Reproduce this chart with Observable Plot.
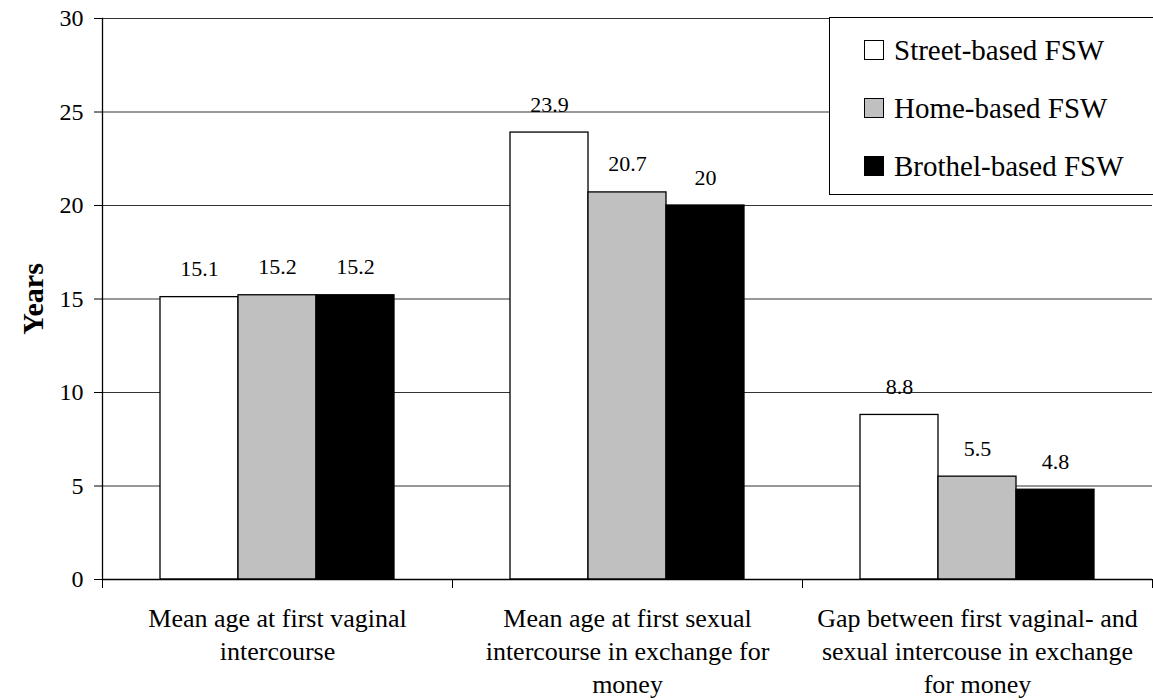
<!DOCTYPE html>
<html>
<head>
<meta charset="utf-8">
<script src="https://cdn.jsdelivr.net/npm/d3@7"></script>
<script src="https://cdn.jsdelivr.net/npm/@observablehq/plot@0.6"></script>
<style>
  body { margin: 0; background: #fff; }
  #wrap { position: relative; width: 1153px; height: 700px; font-family: "Liberation Serif", "Times New Roman", serif; }
  #wrap svg, #wrap svg text { font-family: "Liberation Serif", "Times New Roman", serif !important; }
  #legend { position: absolute; left: 829px; top: 17px; width: 340px; height: 178px; box-sizing: border-box; border: 1px solid #000; background: #fff; }
  .row { position: absolute; left: 0; height: 58px; display: flex; align-items: center; font-size: 29px; color: #000; white-space: nowrap; }
  .sw { width: 18px; height: 18px; border: 1px solid #000; margin-left: 34px; margin-right: 10px; flex: none; }
</style>
</head>
<body>
<div id="wrap"></div>
<script>
const categories = [
  "Mean age at first vaginal\nintercourse",
  "Mean age at first sexual\nintercourse in exchange for\nmoney",
  "Gap between first vaginal- and\nsexual intercouse in exchange\nfor money"
];
const series = ["Street-based FSW", "Home-based FSW", "Brothel-based FSW"];
const streetValues = [15.1, 23.9, 8.8];
const homeValues = [15.2, 20.7, 5.5];
const brothelValues = [15.2, 20, 4.8];
const yTicks = [0, 5, 10, 15, 20, 25, 30];
const colors = ["#ffffff", "#c0c0c0", "#000000"];

const valuesBySeries = [streetValues, homeValues, brothelValues];
const rows = categories.flatMap((c, i) =>
  series.map((s, j) => ({category: c, series: s, value: valuesBySeries[j][i]}))
);

const W = 1153, H = 700, mT = 18, mB = 121, mL = 102, mR = 1;
const innerH = H - mT - mB;
const serif = "Liberation Serif";

const chart = Plot.plot({
  width: W, height: H,
  marginLeft: mL, marginRight: mR, marginTop: mT, marginBottom: mB,
  style: {fontFamily: serif, fontSize: "24px", color: "#000", background: "transparent"},
  fx: {domain: categories, padding: 0, label: null},
  x: {domain: series, paddingInner: 0, paddingOuter: 0.735, axis: null},
  y: {domain: [0, 30], label: null},
  color: {domain: series, range: colors},
  marks: [
    Plot.ruleY(yTicks.filter(d => d > 0), {stroke: "#333333", strokeWidth: 1}),
    Plot.barY(rows, {fx: "category", x: "series", y: "value", fill: "series", stroke: "#000", strokeWidth: 1.3}),
    Plot.text(rows, {fx: "category", x: "series", y: "value", text: d => String(d.value), dy: -28, fontSize: 22, fontFamily: serif, fill: "#000"}),
    Plot.ruleY([0], {stroke: "#000", strokeWidth: 1.3}),
    Plot.frame({anchor: "left", facet: "super", stroke: "#000", strokeWidth: 1.3}),
    Plot.frame({anchor: "left", insetTop: innerH, insetBottom: -8, stroke: "#000"}),
    Plot.frame({anchor: "right", insetTop: innerH, insetBottom: -8, stroke: "#000"}),
    Plot.axisY({ticks: yTicks, tickSize: 8, tickPadding: 11, fontSize: 24, fontFamily: serif, label: null}),
    Plot.axisY({ticks: [], label: "Years", labelAnchor: "center", labelArrow: false, labelOffset: 81, fontSize: 30, fontFamily: serif, fontWeight: "bold"}),
    Plot.axisFx({anchor: "bottom", tickSize: 0, tickPadding: 24, fontSize: 26, fontFamily: serif, lineHeight: 1.27, label: null})
  ]
});

const wrap = document.getElementById("wrap");
wrap.appendChild(chart);

const legend = document.createElement("div");
legend.id = "legend";
series.forEach((s, i) => {
  const row = document.createElement("div");
  row.className = "row";
  row.style.top = (3 + i * 58) + "px";
  const sw = document.createElement("div");
  sw.className = "sw";
  sw.style.background = colors[i];
  const t = document.createElement("span");
  t.textContent = s;
  row.appendChild(sw);
  row.appendChild(t);
  legend.appendChild(row);
});
wrap.appendChild(legend);
</script>
</body>
</html>
